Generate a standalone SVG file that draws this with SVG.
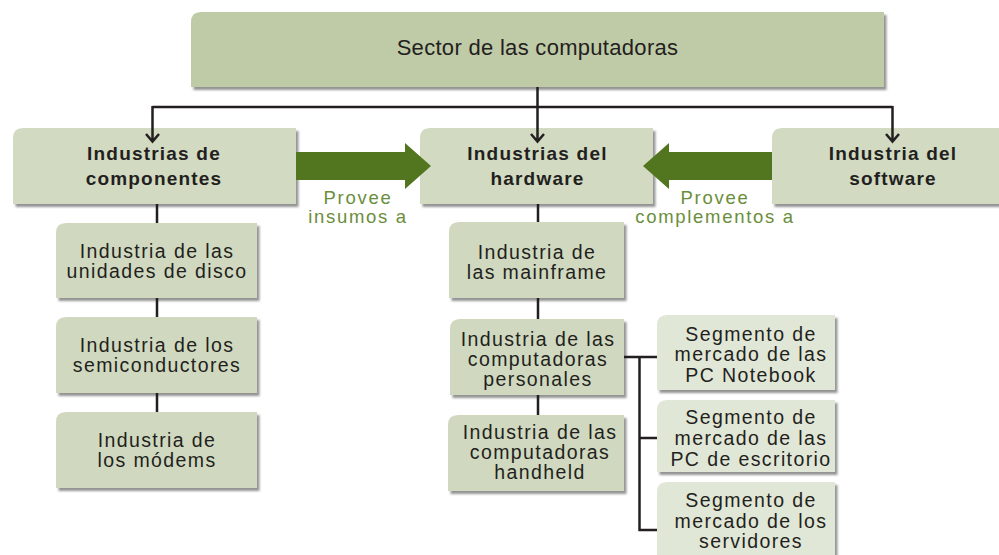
<svg xmlns="http://www.w3.org/2000/svg" width="999" height="555" viewBox="0 0 999 555">
<defs>
<filter id="sh" x="-5%" y="-10%" width="115%" height="130%">
<feDropShadow dx="2.5" dy="3" stdDeviation="1.2" flood-color="#5a5a5a" flood-opacity="0.65"/>
</filter>
</defs>
<style>
text{font-family:"Liberation Sans",Arial,sans-serif;fill:#231f20;text-anchor:middle}
.top{font-size:22px;letter-spacing:0.3px}
.b{font-size:19px;font-weight:bold;letter-spacing:1.2px}
.r{font-size:19.5px;letter-spacing:1.4px}
.g{font-size:18.5px;letter-spacing:1.7px;fill:#6a8e3b}
.box{filter:url(#sh)}
.c0{fill:#bfcaa7}
.c1{fill:#d2dac1}
.c2{fill:#d0d9bf}
.c3{fill:#e1e7d6}
.ln{stroke:#231f20;stroke-width:2.5;fill:none}
.arw{fill:#52761f}
</style>
<rect width="999" height="555" fill="#ffffff"/>

<g id="sector">
<path class="box c0" d="M201,12 H884 V87 H191 V22 Q191,12 201,12 Z"/>
<text class="top" x="537.5" y="55">Sector de las computadoras</text>
</g>

<g id="componentes">
<path class="box c1" d="M23,128 H296 V204 H13 V138 Q13,128 23,128 Z"/>
<text class="b" x="154" y="160">Industrias de</text>
<text class="b" x="154" y="185">componentes</text>
</g>

<g id="hardware">
<path class="box c1" d="M430,128 H653 V204 H420 V138 Q420,128 430,128 Z"/>
<text class="b" x="537.5" y="160">Industrias del</text>
<text class="b" x="537.5" y="185">hardware</text>
</g>

<g id="software">
<path class="box c1" d="M782,128 H1003 V204 H772 V138 Q772,128 782,128 Z"/>
<text class="b" x="893" y="160">Industria del</text>
<text class="b" x="893" y="185">software</text>
</g>

<g id="arrow-insumos">
<polygon class="arw" points="296,152 405,152 405,143 431,166 405,189 405,180 296,180"/>
<text class="g" x="358" y="204">Provee</text>
<text class="g" x="358" y="223">insumos a</text>
</g>

<g id="arrow-complementos">
<polygon class="arw" points="772,152 669,152 669,143 643,166 669,189 669,180 772,180"/>
<text class="g" x="715" y="204">Provee</text>
<text class="g" x="715" y="223">complementos a</text>
</g>

<g id="discos">
<path class="box c2" d="M66,223 H257 V298 H56 V233 Q56,223 66,223 Z"/>
<text class="r" x="157" y="258">Industria de las</text>
<text class="r" x="157" y="278">unidades de disco</text>
</g>

<g id="semiconductores">
<path class="box c2" d="M66,317 H257 V393 H56 V327 Q56,317 66,317 Z"/>
<text class="r" x="157" y="352">Industria de los</text>
<text class="r" x="157" y="372">semiconductores</text>
</g>

<g id="modems">
<path class="box c2" d="M66,412 H257 V488 H56 V422 Q56,412 66,412 Z"/>
<text class="r" x="157" y="447">Industria de</text>
<text class="r" x="157" y="467">los módems</text>
</g>

<g id="mainframe">
<path class="box c2" d="M459,222 H624 V298 H449 V232 Q449,222 459,222 Z"/>
<text class="r" x="537" y="259">Industria de</text>
<text class="r" x="537" y="279">las mainframe</text>
</g>

<g id="personales">
<path class="box c2" d="M460,319 H624 V395 H450 V329 Q450,319 460,319 Z"/>
<text class="r" x="538" y="346">Industria de las</text>
<text class="r" x="538" y="366">computadoras</text>
<text class="r" x="538" y="386">personales</text>
</g>

<g id="handheld">
<path class="box c2" d="M458,415 H624 V491 H448 V425 Q448,415 458,415 Z"/>
<text class="r" x="540" y="439">Industria de las</text>
<text class="r" x="540" y="459">computadoras</text>
<text class="r" x="540" y="479">handheld</text>
</g>

<g id="notebook">
<path class="box c3" d="M667,315 H835 V390 H657 V325 Q657,315 667,315 Z"/>
<text class="r" x="751" y="341">Segmento de</text>
<text class="r" x="751" y="361">mercado de las</text>
<text class="r" x="751" y="382">PC Notebook</text>
</g>

<g id="escritorio">
<path class="box c3" d="M667,400 H835 V472 H657 V410 Q657,400 667,400 Z"/>
<text class="r" x="751" y="424">Segmento de</text>
<text class="r" x="751" y="445">mercado de las</text>
<text class="r" x="751" y="466">PC de escritorio</text>
</g>

<g id="servidores">
<path class="box c3" d="M667,482 H835 V562 H657 V492 Q657,482 667,482 Z"/>
<text class="r" x="751" y="507">Segmento de</text>
<text class="r" x="751" y="528">mercado de los</text>
<text class="r" x="751" y="548">servidores</text>
</g>

<g id="connectors" class="ln">
<path d="M537.5,87 V107 M152.5,107 H892.5"/>
<path d="M152.5,106 V142 M146,134 L152.5,141.5 L159,134"/>
<path d="M537.5,106 V142 M531,134 L537.5,141.5 L544,134"/>
<path d="M892.5,106 V142 M886,134 L892.5,141.5 L899,134"/>
<path d="M157,204 V223 M157,298 V317 M157,393 V412"/>
<path d="M538,204 V222 M538,298 V319 M538,395 V415"/>
<path d="M624,357 H657 M639.5,357 V531 M639.5,438 H657 M638.5,530 H657"/>
</g>
</svg>
